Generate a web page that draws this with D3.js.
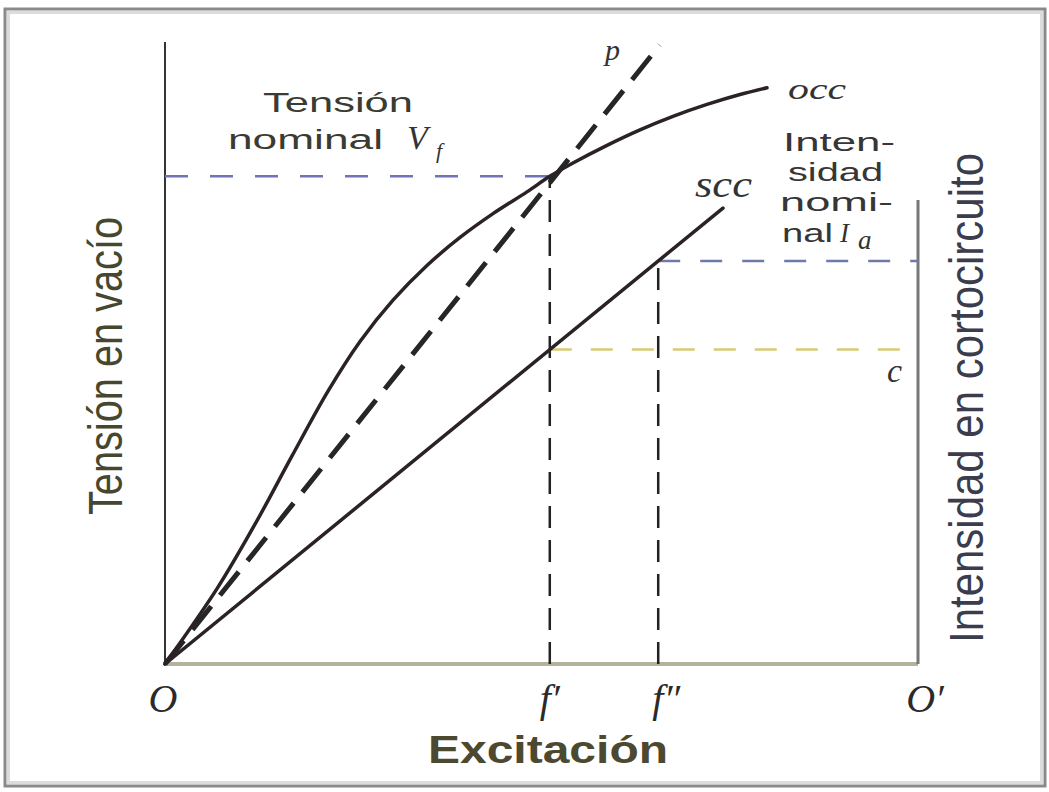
<!DOCTYPE html>
<html>
<head>
<meta charset="utf-8">
<script src="https://cdn.jsdelivr.net/npm/d3@7"></script>
<style>
  html, body { margin: 0; padding: 0; background: #ffffff; }
  svg { display: block; }
</style>
</head>
<body>
<svg id="chart" width="1049" height="792"></svg>
<script>
// Open-circuit (occ) and short-circuit (scc) characteristics of a synchronous machine.
// Excitation on the horizontal axis, 0..100 relative units (O .. O').
// Open-circuit voltage / short-circuit current on the vertical axes, 0..100 relative units.

const occExcitation = [0, 6.91, 12.22, 16.87, 21.65, 25.90, 30.28, 34.79, 39.18, 43.56, 48.07, 51.1, 54.18, 58.70, 63.08, 67.46, 71.98, 76.36, 79.95];
const occVoltage    = [0, 12.12, 23.05, 33.46, 43.87, 51.85, 58.49, 64.07, 68.57, 72.40, 75.90, 78.4, 80.55, 83.39, 85.88, 88.05, 89.97, 91.56, 92.64];

const airGapExcitation = [0, 65.7];
const airGapVoltage    = [0, 99.5];

const sccExcitation = [0, 74.1];
const sccCurrent    = [0, 73.3];

const excitationTicks  = ["O", "f\u2032", "f\u2033", "O\u2032"];
const excitationValues = [0, 51.1, 65.5, 100];

const ratedVoltage = 78.4;     // V_f, reached by the occ at f'
const currentAxisTop = 74.6;   // extent of the short-circuit current axis

// scc is a straight line through the origin
const sccSlope = sccCurrent[1] / sccExcitation[1];
const fPrime = excitationValues[1];
const fDouble = excitationValues[2];
const ratedCurrent = sccSlope * fDouble;  // I_a, reached by the scc at f''
const levelC = sccSlope * fPrime;         // scc current at f'

const svg = d3.select("#chart");

const x = d3.scaleLinear().domain([0, 100]).range([165, 918]);
const y = d3.scaleLinear().domain([0, 100]).range([664, 42]);

// ---- picture frame ----
svg.append("rect")
  .attr("x", 5).attr("y", 9).attr("width", 1040).attr("height", 777)
  .attr("fill", "none").attr("stroke", "#8a8a8a").attr("stroke-width", 3);
svg.append("rect")
  .attr("x", 8.5).attr("y", 12.5).attr("width", 1033).attr("height", 770)
  .attr("fill", "none").attr("stroke", "#dcdcdc").attr("stroke-width", 3);

// ---- axes ----
const axes = svg.append("g");
axes.append("line")
  .attr("x1", x(0)).attr("x2", x(0)).attr("y1", y(0)).attr("y2", y(100))
  .attr("stroke", "#333").attr("stroke-width", 2);
axes.append("line")
  .attr("x1", x(0)).attr("x2", x(100)).attr("y1", y(0)).attr("y2", y(0))
  .attr("stroke", "#b3b39c").attr("stroke-width", 4);
axes.append("line")
  .attr("x1", x(100)).attr("x2", x(100)).attr("y1", y(0)).attr("y2", y(currentAxisTop))
  .attr("stroke", "#777").attr("stroke-width", 3);

// ---- construction (dashed) lines ----
const guides = svg.append("g").attr("fill", "none");
function guide(x1, y1, x2, y2, color, width, dash) {
  guides.append("line")
    .attr("x1", x(x1)).attr("y1", y(y1)).attr("x2", x(x2)).attr("y2", y(y2))
    .attr("stroke", color).attr("stroke-width", width).attr("stroke-dasharray", dash);
}
guide(0, ratedVoltage, fPrime, ratedVoltage, "#7272b6", 2.5, "23,22");
guide(fPrime, 0, fPrime, ratedVoltage, "#222", 2.5, "22,12");
guide(fDouble, 0, fDouble, ratedCurrent, "#222", 2.5, "22,12");
guide(fDouble, ratedCurrent, 100, ratedCurrent, "#6f7aa8", 2.5, "22,20");
guide(fPrime, levelC, 100, levelC, "#d8ca74", 2.5, "22,19");

// ---- characteristics ----
const straight = d3.line().x(d => x(d[0])).y(d => y(d[1]));
const smooth = d3.line().x(d => x(d[0])).y(d => y(d[1])).curve(d3.curveCatmullRom.alpha(0.5));
const occPts = occExcitation.map((e, i) => [e, occVoltage[i]]);
const gapPts = airGapExcitation.map((e, i) => [e, airGapVoltage[i]]);
const sccPts = sccExcitation.map((e, i) => [e, sccCurrent[i]]);

svg.append("path")
  .attr("d", straight(gapPts))
  .attr("fill", "none").attr("stroke", "#262626").attr("stroke-width", 5)
  .attr("stroke-dasharray", "30,14");

svg.append("path")
  .attr("d", straight(sccPts))
  .attr("fill", "none").attr("stroke", "#2b2226").attr("stroke-width", 3.5)
  .attr("stroke-linecap", "round");

svg.append("path")
  .attr("d", smooth(occPts))
  .attr("fill", "none").attr("stroke", "#2b2226").attr("stroke-width", 3.5)
  .attr("stroke-linecap", "round");

// ---- text ----
const SANS = "'Liberation Sans', Arial, sans-serif";
const NARROW = "'Liberation Sans Narrow', 'Liberation Sans', Arial, sans-serif";
const SERIF = "'Liberation Serif', 'Times New Roman', serif";

function label(txt, o) {
  const t = svg.append("text")
    .attr("x", o.x).attr("y", o.y)
    .attr("font-family", o.family || SANS)
    .attr("font-size", o.size)
    .attr("font-style", o.style || "normal")
    .attr("font-weight", o.weight || "normal")
    .attr("fill", o.fill || "#333")
    .attr("text-anchor", o.anchor || "start")
    .text(txt);
  if (o.len) t.attr("textLength", o.len).attr("lengthAdjust", "spacingAndGlyphs");
  if (o.rotate) t.attr("transform", `rotate(${o.rotate},${o.x},${o.y})`);
  return t;
}

// excitation markers below the horizontal axis
const tickNudge = [-2, 0, 8, 7];
excitationTicks.forEach((t, i) => {
  label(t, { x: x(excitationValues[i]) + tickNudge[i], y: 712, size: 40, family: SERIF,
             style: "italic", anchor: "middle", fill: "#2a2a2a" });
});

// axis titles
label("Excitación", { x: 548, y: 763, size: 38, weight: "bold", anchor: "middle",
                      len: 240, fill: "#4c4930" });
label("Tensión en vacío", { x: 122, y: 366, size: 48, family: NARROW, anchor: "middle",
                            len: 298, rotate: -90, fill: "#46472f" });
label("Intensidad en cortocircuito", { x: 983, y: 398, size: 48, family: NARROW, anchor: "middle",
                                       len: 490, rotate: -90, fill: "#3b3c4c" });

// curve names
label("p", { x: 605, y: 60, size: 30, family: SERIF, style: "italic", fill: "#333" });
label("occ", { x: 788, y: 99, size: 30, family: SERIF, style: "italic", len: 58, fill: "#333" });
label("scc", { x: 695, y: 197, size: 38, family: SERIF, style: "italic", len: 57, fill: "#333" });
label("c", { x: 887, y: 382, size: 34, family: SERIF, style: "italic", fill: "#333" });

// rated voltage annotation
label("Tensión", { x: 263, y: 112, size: 27, len: 150, fill: "#3a3b33" });
label("nominal", { x: 228, y: 149, size: 27, len: 155, fill: "#3a3b33" });
label("V", { x: 407, y: 149, size: 34, family: SERIF, style: "italic", fill: "#333" });
label("f", { x: 436, y: 158, size: 22, family: SERIF, style: "italic", fill: "#333" });

// rated current annotation
label("Inten-", { x: 783, y: 151, size: 26, len: 112, fill: "#363636" });
label("sidad", { x: 788, y: 181, size: 26, len: 95, fill: "#363636" });
label("nomi-", { x: 780, y: 211, size: 26, len: 113, fill: "#363636" });
label("nal", { x: 782, y: 242, size: 26, len: 51, fill: "#363636" });
label("I", { x: 840, y: 242, size: 27, family: SERIF, style: "italic", fill: "#333" });
label("a", { x: 858, y: 249, size: 27, family: SERIF, style: "italic", fill: "#333" });
</script>
</body>
</html>
